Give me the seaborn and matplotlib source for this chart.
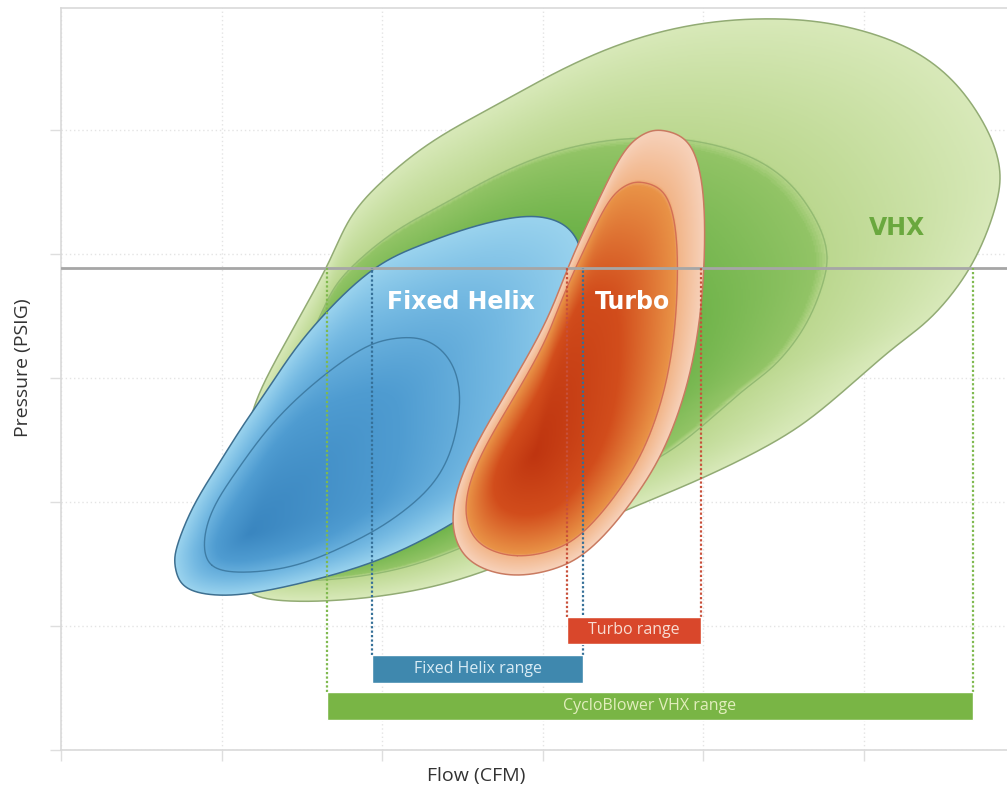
import numpy as np
import matplotlib
matplotlib.use("Agg")
import matplotlib.pyplot as plt
import seaborn as sns
from matplotlib.path import Path
from matplotlib.patches import PathPatch
from matplotlib.colors import LinearSegmentedColormap

# ── Operating envelopes (Flow, Pressure) ──────────────────────────────
vhx_flow = [1.18, 1.70, 2.32, 2.86, 3.36, 3.98, 4.50, 4.81, 5.17, 5.43, 5.68, 5.83,
            5.85, 5.75, 5.54, 5.23, 4.81, 4.40, 3.98, 3.56, 3.15, 2.74, 2.32, 2.01,
            1.80, 1.66, 1.43, 1.21, 1.15, 1.12, 1.15]
vhx_press = [1.23, 1.20, 1.31, 1.55, 1.85, 2.18, 2.52, 2.82, 3.23, 3.49, 3.91, 4.40,
             4.72, 5.06, 5.43, 5.70, 5.86, 5.90, 5.86, 5.73, 5.51, 5.22, 4.92, 4.60,
             4.30, 3.90, 3.36, 2.82, 2.42, 1.94, 1.49]
vhx_core = (1.36, 1.89)

helix_flow = [0.71, 0.76, 0.93, 1.24, 1.86, 2.28, 2.59, 2.87, 3.08, 3.20, 3.26,
              3.25, 3.22, 3.11, 2.90, 2.59, 2.28, 1.93, 1.53, 1.30, 1.13, 0.97,
              0.82, 0.72]
helix_press = [1.48, 1.32, 1.25, 1.27, 1.47, 1.71, 1.95, 2.19, 2.50, 2.90, 3.37,
               3.89, 4.11, 4.26, 4.31, 4.23, 4.09, 3.88, 3.36, 2.93, 2.61, 2.28,
               1.96, 1.64]
helix_core = (1.17, 1.74)
# best-efficiency island inside the Fixed Helix envelope
helix_inner_flow = [0.93, 1.13, 1.45, 1.76, 2.07, 2.38, 2.49, 2.44, 2.28, 2.07,
                    1.86, 1.55, 1.30, 1.10, 0.95, 0.89]
helix_inner_press = [1.48, 1.43, 1.48, 1.64, 1.86, 2.23, 2.77, 3.12, 3.31, 3.32,
                     3.23, 2.93, 2.61, 2.26, 1.96, 1.69]

turbo_flow = [2.82, 3.13, 3.34, 3.55, 3.75, 3.90, 3.98, 4.01, 4.00, 3.92, 3.75,
              3.63, 3.50, 3.34, 3.17, 3.03, 2.82, 2.61, 2.47, 2.44, 2.55]
turbo_press = [1.40, 1.48, 1.67, 1.99, 2.40, 2.93, 3.47, 4.01, 4.54, 4.90, 5.00,
               4.97, 4.82, 4.41, 3.93, 3.47, 2.98, 2.52, 2.12, 1.77, 1.51]
turbo_core = (2.95, 2.38)

# ── Range bars at the design pressure ─────────────────────────────────
design_pressure = 3.89
range_labels = ["CycloBlower VHX range", "Fixed Helix range", "Turbo range"]
range_start = [1.66, 1.94, 3.15]
range_end = [5.68, 3.25, 3.99]
range_level = [0.355, 0.653, 0.964]


def smooth_closed(xs, ys, n=40):
    """Closed Catmull-Rom curve through the outline points, lightly rounded."""
    p1 = np.column_stack([xs, ys])
    p0, p2, p3 = np.roll(p1, 1, 0), np.roll(p1, -1, 0), np.roll(p1, -2, 0)
    t = np.linspace(0, 1, n, endpoint=False)[:, None, None]
    c = 0.5 * (2 * p1 + (p2 - p0) * t + (2 * p0 - 5 * p1 + 4 * p2 - p3) * t ** 2
               + (3 * p1 - p0 - 3 * p2 + p3) * t ** 3)
    c = c.transpose(1, 0, 2).reshape(-1, 2)
    # circular gaussian smoothing to take the corners off
    sig = n / 3
    k = np.arange(-int(3 * sig), int(3 * sig) + 1)
    w = np.exp(-k ** 2 / (2 * sig ** 2))
    w /= w.sum()
    c = sum(wi * np.roll(c, ki, axis=0) for wi, ki in zip(w, k))
    return np.vstack([c, c[:1]])


def radial_field(X, Y, curve, cx, cy):
    ang = np.arctan2(curve[:, 1] - cy, curve[:, 0] - cx)
    rad = np.hypot(curve[:, 0] - cx, curve[:, 1] - cy)
    order = np.argsort(ang)
    R = np.interp(np.arctan2(Y - cy, X - cx), ang[order], rad[order], period=2 * np.pi)
    return np.hypot(X - cx, Y - cy) / R


def draw_blob(ax, xs, ys, core, ring, stops, edge, ring_color, z):
    curve = smooth_closed(xs, ys)
    patch = PathPatch(Path(curve), facecolor="none", edgecolor=edge, lw=1.1, zorder=z + 0.2)
    ax.add_patch(patch)
    x0, x1 = curve[:, 0].min(), curve[:, 0].max()
    y0, y1 = curve[:, 1].min(), curve[:, 1].max()
    X, Y = np.meshgrid(np.linspace(x0, x1, 500), np.linspace(y0, y1, 500))
    r = np.clip(radial_field(X, Y, curve, *core), 0, 1)
    cmap = LinearSegmentedColormap.from_list("blob", stops)
    img = ax.imshow(r, extent=(x0, x1, y0, y1), origin="lower", cmap=cmap, vmin=0, vmax=1,
                    aspect="auto", interpolation="bilinear", zorder=z)
    img.set_clip_path(patch)
    if np.isscalar(ring):
        inner = np.array(core) + ring * (curve - np.array(core))
    else:
        inner = smooth_closed(*ring)
    ax.plot(inner[:, 0], inner[:, 1], color=ring_color, lw=1.0, zorder=z + 0.1)


sns.set_theme(style="white")
plt.rcParams["font.family"] = ["Open Sans", "DejaVu Sans"]

fig = plt.figure(figsize=(10.07, 7.87), dpi=100)
ax = fig.add_axes([61 / 1007, 37 / 787, 946 / 1007, 742 / 787])

# ── Envelopes ────────────────────────────────────────────────
draw_blob(ax, vhx_flow, vhx_press, vhx_core, 0.76,
          [(0.0, "#3f9427"), (0.45, "#55a735"), (0.745, "#92c466"),
           (0.765, "#bcd890"), (1.0, "#d8e9b9")],
          "#92ab74", "#93ba72", 1)
draw_blob(ax, helix_flow, helix_press, helix_core, (helix_inner_flow, helix_inner_press),
          [(0.0, "#3a86c0"), (0.45, "#4f9cd1"), (0.75, "#74b9e2"), (1.0, "#9ad3ee")],
          "#3d6f90", "#3f7da5", 2)
draw_blob(ax, turbo_flow, turbo_press, turbo_core, 0.84,
          [(0.0, "#bf3510"), (0.5, "#d24d1c"), (0.83, "#e99347"),
           (0.85, "#f2b68a"), (1.0, "#f7d2bb")],
          "#c97a60", "#d36f55", 3)

# ── Design pressure line and range markers ───────────────────
bar_h = 0.225
bar_colors = ["#79b545", "#3f88ae", "#d9472b"]
line_colors = ["#7fb94e", "#356f97", "#c8503a"]
text_colors = ["#e2eebd", "#d9ecf5", "#f8dcd2"]

ax.axhline(design_pressure, color="#a6a6a6", lw=2, zorder=4)
for lab, a, b, lev, bc, lc, tc in zip(range_labels, range_start, range_end, range_level,
                                      bar_colors, line_colors, text_colors):
    ax.vlines([a, b], lev + bar_h / 2, design_pressure, colors=lc, lw=1.6,
              linestyles=(0, (1, 1)), zorder=4.5)
    ax.barh(lev, b - a, left=a, height=bar_h, color=bc, zorder=5)
    ax.text((a + b) / 2, lev, lab, ha="center", va="center", fontsize=11.5,
            color=tc, zorder=6)

# ── Envelope names ───────────────────────────────────────────
ax.text(2.49, 3.61, "Fixed Helix", ha="center", va="center", fontsize=17,
        fontweight="bold", color="white", family="DejaVu Sans", zorder=6)
ax.text(3.56, 3.61, "Turbo", ha="center", va="center", fontsize=17,
        fontweight="bold", color="white", family="DejaVu Sans", zorder=6)
ax.text(5.21, 4.21, "VHX", ha="center", va="center", fontsize=17,
        fontweight="bold", color="#6aa83e", family="DejaVu Sans", zorder=6)

# ── Axes styling ─────────────────────────────────────────────
ax.set_xlim(0, 5.894)
ax.set_ylim(0, 5.984)
ax.set_xticks(range(6))
ax.set_yticks(range(6))
ax.set_xticklabels([])
ax.set_yticklabels([])
ax.grid(True, linestyle=(0, (1, 2)), color="#e4e4e4", lw=1)
ax.set_axisbelow(True)
ax.tick_params(axis="both", length=8, width=1, color="#dedede", direction="out",
               bottom=True, left=True)
for side in ["left", "bottom", "top"]:
    ax.spines[side].set_color("#d9d9d9")
    ax.spines[side].set_linewidth(1.2)
ax.spines["right"].set_visible(False)

ax.set_xlabel("Flow (CFM)", fontsize=14, color="#333333")
ax.set_ylabel("Pressure (PSIG)", fontsize=14, color="#333333")
ax.xaxis.set_label_coords(0.439, -0.023)
ax.yaxis.set_label_coords(-0.031, 0.515)

fig.savefig("out.png", dpi=100)
